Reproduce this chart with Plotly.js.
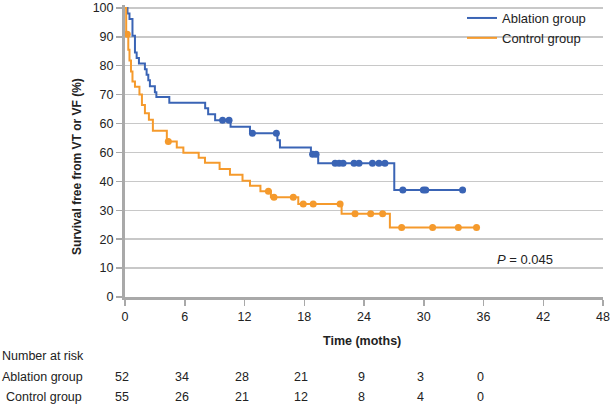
<!DOCTYPE html>
<html>
<head>
<meta charset="utf-8">
<script src="https://cdn.plot.ly/plotly-3.0.1.min.js"></script>
<style>html,body{margin:0;padding:0;background:#fff;}#chart{width:613px;height:408px;}</style>
</head>
<body>
<div id="chart"></div>
<script>
// ---- Data ----
const ablationEventTimes = [0.25,0.45,0.75,1.0,1.17,1.4,2.0,2.17,2.34,2.5,3.0,3.15,4.45,8.05,8.35,9.05,10.6,12.55,15.3,15.56,18.67,19.4,27.04];
const ablationSurvival   = [98.1,96.2,90.4,84.6,82.7,80.8,78.8,76.9,75.0,72.9,70.8,69.2,67.2,65.3,63.2,61.1,58.9,56.6,54.2,51.7,49.4,46.3,37.0];
const ablationCensored   = [9.8,10.45,12.8,15.2,18.84,19.18,21.1,21.5,21.9,23.0,23.5,24.85,25.5,26.1,27.9,29.96,30.2,33.9];

const controlEventTimes = [0.12,0.33,0.45,0.6,0.75,1.0,1.45,1.7,2.0,2.4,2.8,4.2,5.2,5.86,7.4,8.03,9.5,10.54,11.8,12.55,13.6,14.65,17.4,21.75,26.6];
const controlSurvival   = [90.9,85.5,81.8,78.0,74.5,72.7,70.0,66.4,63.6,61.3,57.5,53.8,51.7,49.9,48.2,46.4,44.3,42.3,40.2,38.5,36.6,34.5,32.2,28.8,24.0];
const controlCensored   = [0.23,4.35,14.4,14.96,16.9,17.9,18.9,21.6,23.1,24.67,25.87,27.78,30.89,33.47,35.3];

const riskTimes    = [0,6,12,18,24,30,36];
const riskAblation = [52,34,28,21,9,3,0];
const riskControl  = [55,26,21,12,8,4,0];

const xTicks = [0,6,12,18,24,30,36,42,48];
const yTickVals = [0,10,20,30,40,50,60,70,80,90,100];
const yTickText = ["0","10","20","30","40","60","60","70","80","90","100"];

const groupNames = ["Ablation group","Control group"];
const pValueText = "<i>P</i> = 0.045";

// ---- Helpers ----
function stepValue(times, surv, t){
  let s = 100;
  for (let i=0;i<times.length;i++){ if (times[i] <= t) s = surv[i]; }
  return s;
}
function curve(times, surv, censored){
  const end = Math.max(times[times.length-1], censored[censored.length-1]);
  const x = [0].concat(times).concat([end]);
  const y = [100].concat(surv).concat([surv[surv.length-1]]);
  const cy = censored.map(t => stepValue(times, surv, t));
  return {x, y, cx: censored, cy};
}

const BLUE = "#3a64b5";
const ORANGE = "#f59a2c";
const FONT = "Liberation Sans, Arial, Helvetica, sans-serif";

const a = curve(ablationEventTimes, ablationSurvival, ablationCensored);
const c = curve(controlEventTimes, controlSurvival, controlCensored);

const traces = [
  {x:a.x, y:a.y, mode:"lines", line:{shape:"hv", color:BLUE, width:2}, name:groupNames[0], cliponaxis:false},
  {x:c.x, y:c.y, mode:"lines", line:{shape:"hv", color:ORANGE, width:2}, name:groupNames[1], cliponaxis:false},
  {x:a.cx, y:a.cy, mode:"markers", marker:{color:BLUE, size:7}, showlegend:false, cliponaxis:false},
  {x:c.cx, y:c.cy, mode:"markers", marker:{color:ORANGE, size:7}, showlegend:false, cliponaxis:false}
];

const YMAX = 101;
const L = 125, R = 10, T = 3, B = 111;
const plotW = 613 - L - R, plotH = 408 - T - B;
const px2paperX = px => (px - L)/plotW;
const px2paperY = py => (408 - B - py)/plotH;

const annotations = [
  {text:"<b>Survival free from VT or VF (%)</b>", xref:"paper", yref:"paper", x:px2paperX(77), y:px2paperY(166),
   textangle:-90, showarrow:false, font:{family:FONT, size:12, color:"#222"}, xanchor:"center", yanchor:"middle"},
  {text:"<b>Time (moths)</b>", xref:"paper", yref:"paper", x:px2paperX(362), y:px2paperY(341),
   showarrow:false, font:{family:FONT, size:12.5, color:"#222"}, xanchor:"center", yanchor:"middle"},
  {text:pValueText, xref:"paper", yref:"paper", x:px2paperX(525), y:px2paperY(259),
   showarrow:false, font:{family:FONT, size:13, color:"#222"}, xanchor:"center", yanchor:"middle"},
  {text:"Number at risk", xref:"paper", yref:"paper", x:px2paperX(0), y:px2paperY(356),
   showarrow:false, font:{family:FONT, size:12.5, color:"#222"}, xanchor:"left", yanchor:"middle"},
  {text:groupNames[0], xref:"paper", yref:"paper", x:px2paperX(85), y:px2paperY(378),
   showarrow:false, font:{family:FONT, size:12.5, color:"#222"}, xanchor:"right", yanchor:"middle"},
  {text:groupNames[1], xref:"paper", yref:"paper", x:px2paperX(84), y:px2paperY(398),
   showarrow:false, font:{family:FONT, size:12.5, color:"#222"}, xanchor:"right", yanchor:"middle"}
];
riskTimes.forEach((t,i)=>{
  annotations.push({text:String(riskAblation[i]), xref:"x", yref:"paper", x:t, y:px2paperY(378), xshift:-3,
    showarrow:false, font:{family:FONT, size:12.5, color:"#222"}, xanchor:"center", yanchor:"middle"});
  annotations.push({text:String(riskControl[i]), xref:"x", yref:"paper", x:t, y:px2paperY(398), xshift:-3,
    showarrow:false, font:{family:FONT, size:12.5, color:"#222"}, xanchor:"center", yanchor:"middle"});
});

const layout = {
  width:613, height:408,
  margin:{l:L, r:R, t:T, b:B},
  paper_bgcolor:"#fff", plot_bgcolor:"#fff",
  font:{family:FONT, size:12.5, color:"#222"},
  showlegend:true,
  legend:{x:px2paperX(462), y:px2paperY(1), xanchor:"left", yanchor:"top", bgcolor:"rgba(0,0,0,0)",
          font:{family:FONT, size:13, color:"#222"}, tracegroupgap:0},
  xaxis:{range:[0,48], tickvals:xTicks, ticktext:xTicks.map(String), showgrid:false, zeroline:false,
         showline:true, linecolor:"#a9a9a9", linewidth:3, ticks:"outside", ticklen:6, tickwidth:1.5, tickcolor:"#a9a9a9",
         tickfont:{family:FONT, size:12.5, color:"#222"}, ticklabeloverflow:"allow", fixedrange:true},
  yaxis:{range:[0,YMAX], tickvals:yTickVals, ticktext:yTickText, showgrid:true, gridcolor:"#c8c8c8", gridwidth:1.5,
         zeroline:false, showline:true, linecolor:"#a9a9a9", linewidth:3, ticks:"outside", ticklen:6, tickwidth:1.5,
         tickcolor:"#a9a9a9", tickfont:{family:FONT, size:12.5, color:"#222"}, ticklabeloverflow:"allow", fixedrange:true},
  annotations
};

Plotly.newPlot("chart", traces, layout, {staticPlot:true, displayModeBar:false});
</script>
</body>
</html>
